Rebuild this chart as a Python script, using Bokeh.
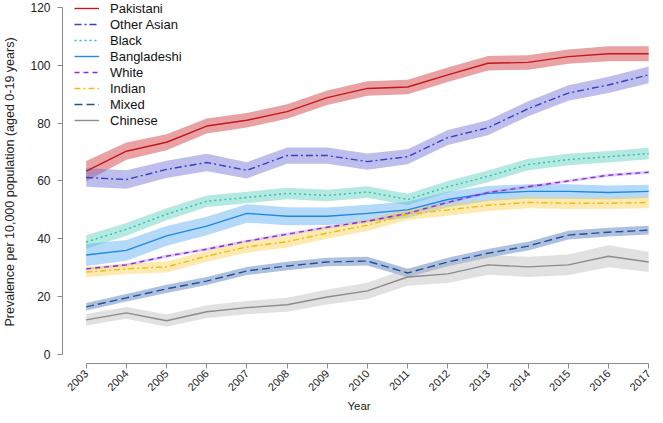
import math
from bokeh.plotting import figure
from bokeh.models import FixedTicker, Legend, LegendItem, Range1d
from bokeh.embed import file_html
from bokeh.resources import INLINE

years = list(range(2003, 2018))
series_names = ["Pakistani", "Other Asian", "Black", "Bangladeshi", "White", "Indian", "Mixed", "Chinese"]

pakistani = [63.4, 70.3, 73.4, 79.0, 81.0, 84.0, 88.8, 92.0, 92.5, 96.7, 100.7, 101.0, 103.0, 104.0, 104.0]
other_asian = [61.2, 60.5, 64.0, 66.4, 63.7, 68.8, 68.8, 66.7, 68.4, 75.0, 78.4, 85.0, 90.4, 93.2, 96.7]
black = [38.9, 43.3, 48.5, 53.0, 54.3, 55.7, 55.0, 56.2, 53.6, 58.0, 61.6, 65.7, 67.4, 68.4, 69.5]
bangladeshi = [34.4, 36.0, 41.0, 44.4, 48.8, 47.8, 47.8, 48.8, 50.0, 53.6, 55.7, 56.4, 56.4, 56.0, 56.4]
white = [29.6, 31.0, 34.0, 36.4, 39.2, 41.6, 44.0, 46.1, 48.8, 52.6, 56.0, 58.0, 60.0, 62.0, 63.0]
indian = [28.5, 29.6, 30.3, 34.0, 37.2, 39.0, 42.0, 44.7, 48.5, 50.0, 51.6, 52.6, 52.3, 52.3, 52.6]
mixed = [16.5, 19.6, 22.7, 25.4, 28.9, 30.6, 32.0, 32.3, 28.2, 32.0, 35.0, 37.5, 41.3, 42.3, 43.0]
chinese = [12.0, 14.4, 11.7, 14.8, 16.2, 17.2, 19.9, 22.0, 26.8, 27.9, 31.0, 30.3, 31.0, 34.0, 32.0]

# half-widths of the confidence bands
pakistani_hw = [3.5, 3.0, 2.8, 2.6, 2.5, 2.5, 2.5, 2.5, 2.5, 2.5, 2.5, 2.5, 2.5, 2.6, 2.6]
other_asian_hw = [3.2, 3.2, 3.0, 3.0, 2.8, 2.8, 2.8, 2.8, 2.6, 2.6, 2.6, 2.6, 2.7, 2.8, 2.9]
black_hw = [2.3, 2.2, 2.1, 2.0, 2.0, 2.0, 2.0, 2.0, 2.0, 2.0, 2.0, 2.0, 2.0, 2.0, 2.0]
bangladeshi_hw = [3.8, 3.6, 3.4, 3.2, 3.2, 3.1, 3.0, 3.0, 2.8, 2.7, 2.6, 2.5, 2.5, 2.4, 2.3]
white_hw = [0.5] * 15
indian_hw = [1.8, 1.8, 1.9, 1.9, 2.0, 2.0, 2.0, 2.0, 2.0, 2.0, 2.0, 2.0, 2.0, 2.0, 2.0]
mixed_hw = [1.3, 1.3, 1.4, 1.4, 1.4, 1.5, 1.5, 1.5, 1.5, 1.5, 1.5, 1.5, 1.5, 1.5, 1.5]
chinese_hw = [2.0, 2.0, 2.1, 2.2, 2.3, 2.4, 2.6, 2.8, 3.0, 3.2, 3.4, 3.5, 3.6, 3.8, 3.5]

y_ticks = [0, 20, 40, 60, 80, 100, 120]

values = [pakistani, other_asian, black, bangladeshi, white, indian, mixed, chinese]
hws = [pakistani_hw, other_asian_hw, black_hw, bangladeshi_hw, white_hw, indian_hw, mixed_hw, chinese_hw]
line_colors = ["#C4161C", "#3A3FC8", "#2EBFAE", "#1E88E5", "#8A2BE2", "#F2BA0A", "#24509A", "#8C8C8C"]
fill_colors = ["#D2454A", "#6E6ED8", "#4CCBBA", "#5AAAF0", "#A070E0", "#F8D050", "#5B82BE", "#BDBDBD"]
fill_alphas = [0.5, 0.45, 0.42, 0.45, 0.35, 0.45, 0.5, 0.45]
dashes = ["solid", "7 3 2 3", "2 3", "solid", "5 4", "6 3 2 3", "8 4", "solid"]

FONT = "Liberation Sans"

p = figure(width=655, height=415, output_backend="svg", toolbar_location=None,
           x_range=Range1d(2002.41, 2017.17), y_range=Range1d(-3.1, 122.4),
           min_border_left=53, min_border_right=0, min_border_top=0, min_border_bottom=0)
p.outline_line_color = None
p.grid.visible = False
p.background_fill_color = "white"

for v, hw, fc, fa in zip(values, hws, fill_colors, fill_alphas):
    lo = [a - b for a, b in zip(v, hw)]
    hi = [a + b for a, b in zip(v, hw)]
    p.varea(x=years, y1=lo, y2=hi, fill_color=fc, fill_alpha=fa)

items = []
for name, v, lc, d in zip(series_names, values, line_colors, dashes):
    r = p.line(years, v, line_color=lc, line_width=1.4, line_dash=d)
    items.append(LegendItem(label=name, renderers=[r]))

legend = Legend(items=items, location=(12, 235), margin=0, padding=0, spacing=0,
                label_height=16, glyph_height=16, glyph_width=25, label_standoff=11,
                label_text_font=FONT, label_text_font_size="13px", label_text_color="#111111",
                background_fill_alpha=0, border_line_color=None)
p.add_layout(legend, "center")

for ax in (p.xaxis[0], p.yaxis[0]):
    ax.axis_line_color = "#8a8a8a"
    ax.major_tick_line_color = "#8a8a8a"
    ax.major_tick_out = 5
    ax.major_tick_in = 0
    ax.minor_tick_line_color = None
    ax.major_label_text_font = FONT
    ax.major_label_text_color = "#222222"
    ax.axis_label_text_font = FONT
    ax.axis_label_text_font_style = "normal"
    ax.axis_label_text_color = "#222222"

p.yaxis.ticker = FixedTicker(ticks=y_ticks)
p.yaxis.bounds = (0, 120)
p.yaxis.axis_label = "Prevalence per 10,000 population (aged 0-19 years)"
p.yaxis.axis_label_text_font_size = "12.5px"
p.yaxis.major_label_text_font_size = "12px"
p.yaxis.axis_label_standoff = 10
p.yaxis.major_label_standoff = 7

p.xaxis.ticker = FixedTicker(ticks=years)
p.xaxis.bounds = (2003, 2017)
p.xaxis.major_label_orientation = math.pi / 4
p.xaxis.major_label_text_font_size = "11px"
p.xaxis.axis_label = "Year"
p.xaxis.axis_label_text_font_size = "11.5px"
p.xaxis.axis_label_standoff = 3
p.xaxis.major_label_standoff = 3

open("out.html", "w").write(file_html(p, INLINE))
